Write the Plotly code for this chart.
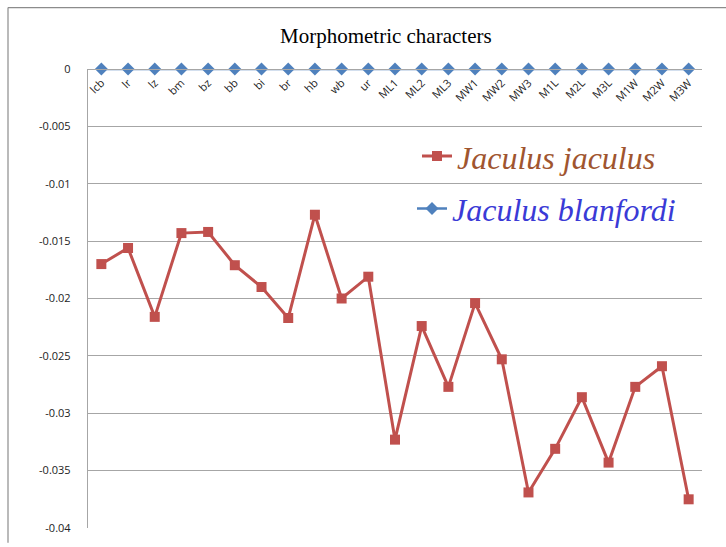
import plotly.graph_objects as go

categories = ["lcb", "lr", "lz", "bm", "bz", "bb", "bi", "br", "hb", "wb", "ur",
              "ML1", "ML2", "ML3", "MW1", "MW2", "MW3", "M1L", "M2L", "M3L",
              "M1W", "M2W", "M3W"]
jaculus = [-0.0170, -0.0156, -0.0216, -0.0143, -0.0142, -0.0171, -0.0190, -0.0217,
           -0.0127, -0.0200, -0.0181, -0.0323, -0.0224, -0.0277, -0.0204, -0.0253,
           -0.0369, -0.0331, -0.0286, -0.0343, -0.0277, -0.0259, -0.0375]
blanfordi = [0.0] * len(categories)
ytick_vals = [0, -0.005, -0.01, -0.015, -0.02, -0.025, -0.03, -0.035, -0.04]
ytick_text = ["0", "-0.005", "-0.01", "-0.015", "-0.02", "-0.025", "-0.03", "-0.035", "-0.04"]

W, H = 726, 547
L, R, T, B = 88, 702, 69, 532
PW, PH = R - L, B - T

fig = go.Figure()
fig.add_trace(go.Scatter(
    x=categories, y=jaculus, mode="lines+markers",
    name='<i><span style="color:#A0552F">Jaculus jaculus</span></i>',
    line=dict(color="#C0504D", width=3),
    marker=dict(symbol="square", size=10, color="#C0504D"),
    cliponaxis=False, legend="legend"))
fig.add_trace(go.Scatter(
    x=categories, y=blanfordi, mode="lines+markers",
    name='<i><span style="color:#3A3AD6">Jaculus blanfordi</span></i>',
    line=dict(color="#4F81BD", width=2.5),
    marker=dict(symbol="diamond", size=10, color="#4F81BD"),
    cliponaxis=False, legend="legend2"))

annotations = [dict(text="Morphometric characters", x=(386 - L) / PW, y=(B - 36) / PH,
                    xref="paper", yref="paper", xanchor="center", yanchor="middle",
                    showarrow=False,
                    font=dict(family="Liberation Serif", size=21, color="black"))]

fig.update_layout(
    width=W, height=H,
    margin=dict(l=L, r=W - R, t=T, b=H - B),
    paper_bgcolor="white", plot_bgcolor="white",
    showlegend=True,
    legend=dict(x=(417 - L) / PW, y=(B - 157) / PH, xanchor="left", yanchor="middle",
                bgcolor="rgba(0,0,0,0)", font=dict(family="Liberation Serif", size=32),
                itemwidth=30),
    legend2=dict(x=(412 - L) / PW, y=(B - 210) / PH, xanchor="left", yanchor="middle",
                 bgcolor="rgba(0,0,0,0)", font=dict(family="Liberation Serif", size=32),
                 itemwidth=30),
    xaxis=dict(type="category", side="bottom", anchor="free", position=1,
               tickangle=-45, ticklabelstandoff=2,
               showgrid=False, showline=True, linecolor="#A6A6A6",
               linewidth=1.3, ticks="", range=[-0.5, len(categories) - 0.5],
               tickfont=dict(family="Open Sans", size=11, color="#222")),
    yaxis=dict(range=[-0.04, 0], tickvals=ytick_vals, ticktext=ytick_text,
               showgrid=True, gridcolor="#A6A6A6", gridwidth=1.3,
               showline=True, linecolor="#A6A6A6", linewidth=1.3, zeroline=False,
               ticks="", ticklabelstandoff=14,
               tickfont=dict(family="Open Sans", size=11, color="#222")),
    annotations=annotations,
    shapes=[dict(type="line", xref="paper", yref="paper", x0=-(L - 8) / PW, x1=-(L - 8) / PW,
                 y0=(B - 7) / PH, y1=-(H - B) / PH,
                 line=dict(color="#8C8C8C", width=1.2)),
            dict(type="line", xref="paper", yref="paper", x0=-(L - 8) / PW, x1=(W - L) / PW,
                 y0=(B - 7) / PH, y1=(B - 7) / PH,
                 line=dict(color="#8C8C8C", width=1.2))],
)
fig.write_html("out.html")
